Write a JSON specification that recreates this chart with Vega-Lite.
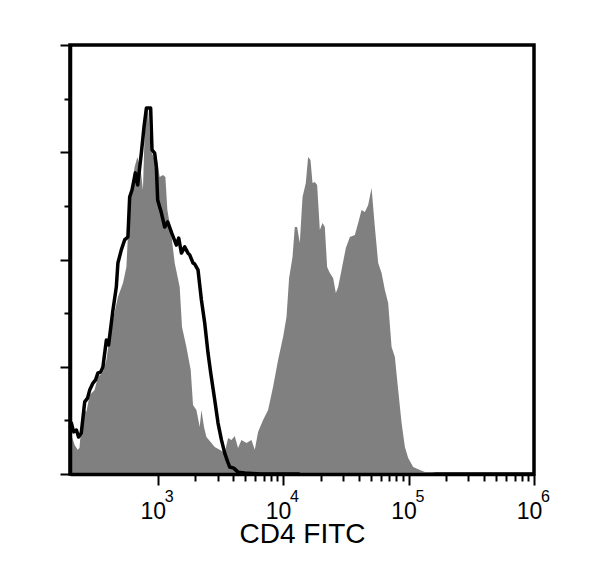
{
  "$schema": "https://vega.github.io/schema/vega-lite/v6.json",
  "width": 464,
  "height": 429,
  "autosize": {"type": "none"},
  "padding": {"left": 70, "top": 45, "right": 66, "bottom": 98},
  "background": "white",
  "config": {"view": {"stroke": "black", "strokeWidth": 3.5}},
  "layer": [
    {
      "data": {"values": [
        {"v":200,"c":13.8},{"v":206,"c":14.2},{"v":218,"c":10.8},{"v":230,"c":9.0},{"v":238,"c":9.7},{"v":253,"c":25.0},{"v":270,"c":23.1},{"v":287,"c":29.5},{"v":314,"c":31.3},{"v":334,"c":36.2},{"v":366,"c":38.0},{"v":390,"c":42.5},{"v":414,"c":51.1},{"v":440,"c":57.4},{"v":482,"c":66.0},{"v":529,"c":71.2},{"v":563,"c":77.2},{"v":598,"c":102.2},{"v":617,"c":105.9},{"v":655,"c":114.5},{"v":689,"c":118.2},{"v":732,"c":113.4},{"v":763,"c":105.9},{"v":798,"c":136.5},{"v":837,"c":136.5},{"v":879,"c":120.9},{"v":934,"c":117.9},{"v":976,"c":119.0},{"v":1037,"c":110.8},{"v":1102,"c":111.5},{"v":1152,"c":110.8},{"v":1195,"c":98.5},{"v":1270,"c":91.0},{"v":1367,"c":78.7},{"v":1498,"c":69.7},{"v":1563,"c":54.8},{"v":1694,"c":47.4},{"v":1834,"c":38.8},{"v":1913,"c":25.7},{"v":2036,"c":23.9},{"v":2163,"c":17.5},{"v":2232,"c":23.9},{"v":2341,"c":17.5},{"v":2447,"c":13.8},{"v":2683,"c":11.6},{"v":2850,"c":10.1},{"v":3124,"c":9.0},{"v":3424,"c":7.8},{"v":3638,"c":13.4},{"v":3873,"c":12.7},{"v":4115,"c":14.2},{"v":4372,"c":9.7},{"v":4654,"c":12.7},{"v":5103,"c":11.6},{"v":5593,"c":12.7},{"v":5943,"c":9.0},{"v":6314,"c":15.7},{"v":6922,"c":20.1},{"v":7590,"c":23.9},{"v":8318,"c":32.5},{"v":9118,"c":42.5},{"v":9995,"c":51.1},{"v":10640,"c":58.6},{"v":11160,"c":73.1},{"v":11880,"c":80.9},{"v":12390,"c":92.1},{"v":12930,"c":92.1},{"v":13580,"c":86.2},{"v":14280,"c":103.3},{"v":15170,"c":108.5},{"v":15820,"c":118.2},{"v":16530,"c":117.1},{"v":17150,"c":108.5},{"v":17890,"c":108.9},{"v":18670,"c":107.8},{"v":19620,"c":91.0},{"v":20610,"c":93.6},{"v":21500,"c":92.1},{"v":22430,"c":77.2},{"v":23570,"c":75.0},{"v":25040,"c":73.1},{"v":26320,"c":67.5},{"v":27460,"c":69.7},{"v":29220,"c":76.1},{"v":31620,"c":84.3},{"v":34040,"c":88.4},{"v":37320,"c":89.1},{"v":39650,"c":93.6},{"v":42200,"c":98.5},{"v":44840,"c":97.7},{"v":47640,"c":100.3},{"v":50710,"c":106.7},{"v":53870,"c":92.1},{"v":57260,"c":78.7},{"v":60950,"c":75.0},{"v":64750,"c":68.6},{"v":68800,"c":63.8},{"v":73230,"c":47.4},{"v":77800,"c":43.6},{"v":82650,"c":31.3},{"v":87990,"c":19.0},{"v":93500,"c":10.1},{"v":99340,"c":6.0},{"v":108900,"c":2.6},{"v":123200,"c":1.5},{"v":135000,"c":0.7},{"v":153600,"c":0.7},{"v":177900,"c":0},{"v":1000000,"c":0}
      ]},
      "mark": {"type": "area", "color": "#808080", "interpolate": "linear"},
      "encoding": {
        "x": {
          "field": "v",
          "type": "quantitative",
          "scale": {"type": "log", "domain": [200, 1000000], "nice": false},
          "axis": {
            "title": "CD4 FITC",
            "values": [1000, 2000, 3000, 4000, 5000, 6000, 7000, 8000, 9000, 10000, 20000, 30000, 40000, 50000, 60000, 70000, 80000, 90000, 100000, 200000, 300000, 400000, 500000, 600000, 700000, 800000, 900000, 1000000],
            "labelExpr": "indexof([1000, 10000, 100000, 1000000], datum.value) >= 0 ? '10' : ''",
            "tickSize": {"condition": {"test": "indexof([1000, 10000, 100000, 1000000], datum.value) >= 0", "value": 11}, "value": 7},
            "tickWidth": 2,
            "tickColor": "black",
            "domainColor": "black",
            "domainWidth": 3.5,
            "grid": false,
            "labelFont": "Liberation Sans",
            "labelFontSize": 23,
            "labelColor": "black",
            "labelAlign": "center",
            "labelBaseline": "top",
            "labelOffset": -5,
            "labelPadding": 15,
            "labelFlush": false,
            "labelOverlap": false,
            "titleFont": "Liberation Sans",
            "titleFontSize": 28,
            "titleFontWeight": "normal",
            "titleColor": "black",
            "titleBaseline": "alphabetic",
            "titleY": 68,
            "zindex": 1
          }
        },
        "y": {
          "field": "c",
          "type": "quantitative",
          "scale": {"domain": [0, 160], "nice": false, "zero": true},
          "axis": {
            "title": null,
            "values": [0, 10, 20, 30, 40, 50, 60, 70, 80, 90, 100, 110, 120, 130, 140, 150, 160],
            "labels": false,
            "tickSize": {"condition": {"test": "datum.value % 40 === 0", "value": 10}, "value": 6},
            "tickWidth": 2,
            "tickColor": "black",
            "domainColor": "black",
            "domainWidth": 3.5,
            "grid": false,
            "zindex": 1
          }
        }
      }
    },
    {
      "data": {"values": [
        {"v":200,"c":17.2},{"v":205,"c":19.0},{"v":214,"c":15.7},{"v":225,"c":16.4},{"v":234,"c":13.8},{"v":246,"c":15.3},{"v":262,"c":26.9},{"v":276,"c":28.3},{"v":287,"c":31.3},{"v":305,"c":33.9},{"v":320,"c":35.1},{"v":334,"c":37.7},{"v":351,"c":38.0},{"v":366,"c":39.9},{"v":390,"c":50.0},{"v":406,"c":48.1},{"v":427,"c":56.3},{"v":440,"c":61.2},{"v":468,"c":69.7},{"v":482,"c":78.7},{"v":513,"c":83.6},{"v":545,"c":87.3},{"v":579,"c":88.4},{"v":598,"c":103.3},{"v":624,"c":105.9},{"v":664,"c":112.3},{"v":693,"c":107.8},{"v":741,"c":119.7},{"v":778,"c":129.4},{"v":813,"c":136.5},{"v":879,"c":136.5},{"v":901,"c":120.9},{"v":946,"c":119.7},{"v":976,"c":114.5},{"v":1000,"c":102.2},{"v":1070,"c":97.4},{"v":1137,"c":92.1},{"v":1202,"c":94.0},{"v":1293,"c":89.9},{"v":1410,"c":85.4},{"v":1471,"c":88.0},{"v":1546,"c":82.4},{"v":1642,"c":84.7},{"v":1745,"c":82.4},{"v":1800,"c":81.7},{"v":1913,"c":78.7},{"v":1973,"c":78.3},{"v":2097,"c":76.1},{"v":2232,"c":64.9},{"v":2371,"c":56.3},{"v":2519,"c":45.1},{"v":2648,"c":37.7},{"v":2850,"c":27.6},{"v":3028,"c":19.0},{"v":3223,"c":12.7},{"v":3424,"c":7.8},{"v":3618,"c":4.5},{"v":3753,"c":2.6},{"v":4041,"c":2.2},{"v":4372,"c":0.7},{"v":4946,"c":0.4},{"v":6514,"c":0},{"v":13580,"c":0}
      ]},
      "mark": {"type": "line", "color": "black", "strokeWidth": 3.5, "strokeJoin": "round", "interpolate": "linear"},
      "encoding": {
        "x": {"field": "v", "type": "quantitative"},
        "y": {"field": "c", "type": "quantitative"}
      }
    },
    {
      "data": {"values": [
        {"v": 1000, "e": "3"},
        {"v": 10000, "e": "4"},
        {"v": 100000, "e": "5"},
        {"v": 1000000, "e": "6"}
      ]},
      "mark": {"type": "text", "align": "left", "baseline": "alphabetic", "dx": 7, "dy": 27.7, "font": "Liberation Sans", "fontSize": 16, "fill": "black", "clip": false},
      "encoding": {
        "x": {"field": "v", "type": "quantitative"},
        "y": {"datum": 0, "type": "quantitative"},
        "text": {"field": "e", "type": "nominal"}
      }
    }
  ]
}
